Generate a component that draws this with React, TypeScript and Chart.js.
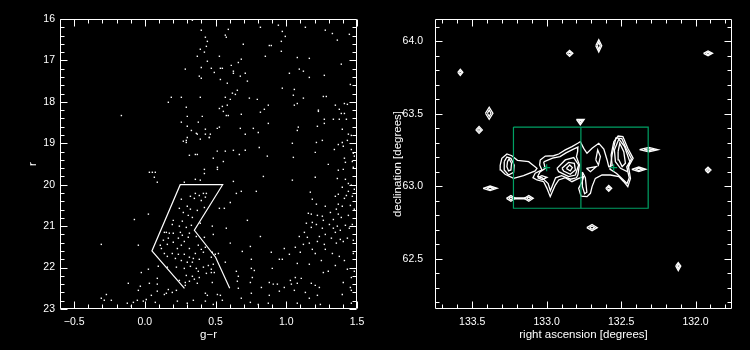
import React, { useEffect, useRef } from 'react';
import { Chart, registerables } from 'chart.js';

Chart.register(...registerables);

const FONT = '"Liberation Sans", Arial, sans-serif';
const WHITE = '#ffffff';
const GREEN = '#00a064';

// ---------- left panel: colour-magnitude diagram ----------
const grTickValues = [-0.5, 0.0, 0.5, 1.0, 1.5];
const rTickValues = [16, 17, 18, 19, 20, 21, 22, 23];

// stars: [g-r, r]
const starsUpperLeft: number[][] = [
  [0.336, 16.03], [0.399, 16.27], [0.428, 16.44], [0.442, 16.54], [0.435, 16.66], [0.392, 16.73], [0.421, 16.8],
  [0.371, 16.9], [0.442, 17.02], [0.399, 17.17], [0.286, 17.21], [0.385, 17.38], [0.399, 17.43], [0.187, 17.89],
  [0.258, 17.89], [0.392, 17.89], [0.166, 18.01], [0.293, 18.13], [-0.166, 18.33], [0.3, 18.35], [0.406, 18.35],
  [0.258, 18.49], [0.378, 18.49], [0.3, 18.59], [0.428, 18.66], [0.329, 18.69], [0.364, 18.76], [0.371, 18.78],
  [0.428, 18.78], [0.3, 18.86], [0.456, 18.86], [0.392, 18.9], [0.293, 18.93], [0.272, 18.95], [0.293, 18.98],
  [0.315, 19.29], [0.357, 19.27], [0.371, 19.27],
];
const starsUpperRight: number[][] = [
  [0.59, 16.25], [0.817, 16.2], [0.944, 16.15], [0.972, 16.3], [1.135, 16.2], [1.276, 16.27], [1.326, 16.35],
  [1.446, 16.37], [0.569, 16.39], [0.576, 16.44], [0.993, 16.42], [0.965, 16.54], [1.361, 16.51], [0.696, 16.61],
  [0.88, 16.64], [0.894, 16.64], [0.965, 16.78], [0.527, 16.9], [0.852, 16.9], [1.078, 16.93], [1.163, 16.95],
  [0.682, 16.97], [0.661, 17.05], [1.389, 17.09], [0.611, 17.12], [0.47, 17.19], [0.534, 17.19], [0.548, 17.19],
  [1.092, 17.21], [1.121, 17.26], [0.491, 17.29], [0.626, 17.26], [0.626, 17.31], [0.71, 17.31], [1.022, 17.31],
  [0.675, 17.38], [1.269, 17.36], [1.163, 17.41], [0.534, 17.46], [0.725, 17.5], [0.583, 17.55], [1.453, 17.58],
  [0.972, 17.67], [1.057, 17.7], [0.654, 17.72], [0.619, 17.79], [0.64, 17.82], [1.05, 17.84], [1.262, 17.87],
  [1.283, 17.87], [0.569, 17.89], [0.739, 17.91], [0.795, 17.94], [1.121, 17.91], [0.604, 17.94], [1.078, 18.04],
  [1.411, 18.04], [1.432, 18.06], [0.583, 18.08], [0.873, 18.08], [1.057, 18.08], [1.347, 18.08], [0.548, 18.11],
  [0.527, 18.16], [0.845, 18.18], [1.227, 18.2], [1.227, 18.23], [1.375, 18.18], [0.555, 18.23], [0.817, 18.25],
  [1.389, 18.28], [1.411, 18.28], [0.576, 18.33], [0.59, 18.33], [0.682, 18.3], [1.269, 18.42], [1.333, 18.42],
  [1.375, 18.42], [1.425, 18.42], [0.873, 18.52], [1.269, 18.52], [1.22, 18.59], [0.527, 18.61], [0.512, 18.64],
  [0.675, 18.64], [0.767, 18.64], [1.085, 18.61], [1.078, 18.69], [1.396, 18.66], [0.802, 18.74], [0.463, 18.78],
  [0.71, 18.78], [1.439, 18.78], [0.456, 18.86], [1.46, 18.81], [1.255, 18.93], [1.432, 18.93], [1.213, 18.98],
  [1.043, 19.0], [1.368, 19.03], [1.396, 18.98], [0.809, 19.1], [1.403, 19.07], [1.34, 19.15], [1.46, 19.15],
  [0.512, 19.19], [0.569, 19.19], [0.626, 19.17], [0.71, 19.17], [1.205, 19.22], [0.668, 19.27], [1.474, 19.24],
  [0.866, 19.31], [1.05, 19.34], [0.484, 19.36], [1.411, 19.36], [1.481, 19.31], [0.555, 19.44], [1.418, 19.46],
  [1.467, 19.44],
];
const starsLowerLeft: number[][] = [
  [0.032, 19.7], [0.053, 19.7], [0.074, 19.7], [0.067, 19.82], [0.088, 19.94], [0.421, 19.63], [0.421, 19.73],
  [0.357, 19.87], [0.392, 19.89], [0.279, 19.94], [0.414, 20.21], [0.435, 20.21], [0.357, 20.21], [0.385, 20.26],
  [0.35, 20.33], [0.428, 20.3], [0.322, 20.28], [0.258, 20.35], [0.399, 20.38], [0.3, 20.52], [0.421, 20.55],
  [0.244, 20.57], [0.322, 20.59], [0.371, 20.62], [0.272, 20.67], [0.025, 20.71], [0.307, 20.74], [0.336, 20.79],
  [-0.074, 20.84], [0.201, 20.86], [0.265, 20.88], [0.392, 20.93], [0.194, 20.96], [0.244, 21.0], [0.329, 20.98],
  [0.293, 21.03], [0.138, 21.15], [0.152, 21.15], [0.173, 21.17], [0.201, 21.17], [0.251, 21.15], [0.315, 21.17],
  [0.265, 21.22], [0.307, 21.27], [0.364, 21.25], [0.421, 21.27], [0.131, 21.34], [0.166, 21.29], [0.237, 21.29],
  [0.201, 21.39], [0.279, 21.37], [-0.308, 21.44], [-0.046, 21.46], [0.109, 21.46], [0.159, 21.44], [0.258, 21.46],
  [0.378, 21.46], [0.428, 21.51], [0.117, 21.54], [0.23, 21.54], [0.315, 21.54], [0.399, 21.56], [0.138, 21.66],
  [0.194, 21.66], [0.237, 21.68], [0.279, 21.68], [0.357, 21.66], [0.414, 21.63], [0.159, 21.73], [0.216, 21.78],
  [0.315, 21.75], [0.343, 21.78], [0.385, 21.8], [0.258, 21.83], [0.3, 21.87], [0.336, 21.87], [0.095, 21.97],
  [0.159, 21.99], [0.223, 21.99], [0.279, 22.02], [0.322, 21.97], [0.364, 22.02], [0.414, 21.99], [0.025, 22.04],
  [-0.025, 22.12], [0.378, 22.09], [0.435, 22.14], [0.293, 22.19], [0.336, 22.21], [0.385, 22.24], [0.35, 22.28],
  [0.088, 22.26], [0.244, 22.31], [0.286, 22.36], [0.315, 22.33], [0.032, 22.38], [-0.117, 22.38], [-0.032, 22.45],
  [0.371, 22.38], [0.088, 22.4], [0.286, 22.43], [-0.046, 22.55], [0.088, 22.57], [0.138, 22.65], [0.152, 22.62],
  [0.194, 22.6], [0.166, 22.53], [0.223, 22.55], [0.428, 22.62], [0.442, 22.67], [0.428, 22.81], [-0.272, 22.65],
  [-0.308, 22.74], [-0.287, 22.79], [-0.237, 22.79], [0.046, 22.67], [0.01, 22.77], [-0.011, 22.81], [-0.053, 22.79],
  [-0.081, 22.84], [-0.124, 22.86], [-0.096, 22.93], [0.074, 22.84], [0.23, 22.81], [0.3, 22.86], [0.343, 22.79],
];
const starsLowerRight: number[][] = [
  [0.513, 19.58], [0.513, 19.63], [1.297, 19.51], [1.368, 19.65], [1.403, 19.63], [1.474, 19.58], [0.838, 19.8],
  [1.043, 19.89], [1.205, 19.82], [1.361, 19.85], [1.418, 19.87], [1.439, 19.97], [1.46, 20.01], [0.626, 19.92],
  [1.396, 20.06], [1.481, 20.11], [1.439, 20.16], [0.682, 20.16], [0.647, 20.21], [0.788, 20.16], [1.17, 20.18],
  [1.368, 20.23], [1.425, 20.26], [1.467, 20.28], [1.347, 20.28], [1.411, 20.33], [1.184, 20.35], [0.604, 20.43],
  [1.213, 20.47], [1.276, 20.52], [1.368, 20.47], [1.396, 20.52], [1.453, 20.5], [1.354, 20.59], [1.481, 20.59],
  [0.527, 20.57], [0.562, 20.57], [1.156, 20.69], [1.177, 20.71], [1.22, 20.74], [1.255, 20.76], [1.312, 20.67],
  [1.368, 20.71], [1.439, 20.74], [1.389, 20.79], [0.725, 20.86], [1.262, 20.86], [1.333, 20.84], [1.184, 20.91],
  [1.142, 20.93], [1.213, 20.96], [1.305, 20.96], [1.361, 21.0], [1.418, 20.98], [1.467, 20.96], [0.477, 21.0],
  [0.576, 21.05], [1.177, 21.03], [1.255, 21.05], [1.333, 21.05], [1.382, 21.1], [1.446, 21.05], [0.484, 21.2],
  [1.128, 21.15], [1.276, 21.2], [1.347, 21.15], [0.817, 21.25], [1.092, 21.25], [1.149, 21.27], [1.234, 21.25],
  [1.319, 21.29], [1.382, 21.32], [1.432, 21.29], [1.474, 21.34], [1.22, 21.37], [1.163, 21.41], [1.121, 21.44],
  [1.269, 21.44], [0.604, 21.41], [1.354, 21.41], [1.403, 21.37], [1.064, 21.51], [0.986, 21.54], [0.746, 21.49],
  [1.184, 21.56], [1.276, 21.56], [1.099, 21.63], [1.022, 21.68], [0.894, 21.63], [0.689, 21.61], [0.477, 21.63],
  [0.498, 21.68], [0.52, 21.66], [1.205, 21.66], [1.326, 21.66], [1.474, 21.66], [1.375, 21.73], [0.47, 21.75],
  [0.951, 21.8], [0.972, 21.8], [0.753, 21.8], [0.569, 21.87], [1.248, 21.83], [1.411, 21.83], [1.078, 21.9],
  [1.163, 21.92], [1.347, 21.95], [0.449, 21.95], [0.484, 21.92], [0.47, 22.04], [0.491, 22.12], [0.47, 22.12],
  [0.753, 22.02], [0.774, 22.07], [0.901, 22.02], [0.647, 22.09], [1.262, 22.12], [1.297, 22.09], [1.432, 22.04],
  [1.481, 22.09], [0.661, 22.21], [0.76, 22.24], [1.106, 22.26], [1.064, 22.24], [1.029, 22.31], [1.46, 22.24],
  [0.477, 22.36], [0.654, 22.33], [0.746, 22.36], [0.88, 22.36], [0.908, 22.4], [0.937, 22.4], [1.036, 22.4],
  [1.078, 22.38], [1.177, 22.38], [1.205, 22.43], [1.403, 22.36], [0.661, 22.5], [0.824, 22.48], [0.986, 22.48],
  [1.234, 22.48], [1.453, 22.48], [1.46, 22.55], [0.951, 22.57], [1.057, 22.55], [1.135, 22.6], [0.753, 22.62],
  [0.513, 22.65], [1.22, 22.67], [1.396, 22.65], [0.534, 22.67], [0.88, 22.67], [0.682, 22.74], [1.163, 22.74],
  [0.548, 22.79], [0.746, 22.84], [0.802, 22.89], [0.873, 22.86], [1.078, 22.86], [1.241, 22.89], [0.484, 22.89],
  [1.46, 22.86],
];

// selection box (open polyline) in g-r / r
const boxGR = [0.28, 0.05, 0.25, 0.55, 0.35, 0.5, 0.6];
const boxR = [22.5, 21.6, 20.0, 20.0, 21.1, 21.75, 22.5];

// ---------- right panel: density contours on the sky ----------
const raTickValues = [133.5, 133.0, 132.5, 132.0];
const decTickValues = [62.5, 63.0, 63.5, 64.0];

// [RA, Dec] closed contours
const contourMain: number[][] = [
  [133.043, 63.183], [133.009, 63.21], [132.953, 63.212], [132.919, 63.224], [132.875, 63.252], [132.83, 63.275],
  [132.791, 63.298], [132.774, 63.309], [132.751, 63.263], [132.729, 63.229], [132.695, 63.263], [132.65, 63.298],
  [132.616, 63.258], [132.594, 63.183], [132.583, 63.137], [132.56, 63.144], [132.567, 63.217], [132.549, 63.309],
  [132.52, 63.348], [132.488, 63.344], [132.455, 63.263], [132.419, 63.194], [132.45, 63.137], [132.437, 63.056],
  [132.455, 62.999], [132.482, 63.033], [132.515, 63.068], [132.572, 63.079], [132.628, 63.079], [132.673, 63.056],
  [132.695, 62.999], [132.706, 62.953], [132.729, 62.93], [132.769, 62.934], [132.785, 62.987], [132.762, 63.033],
  [132.751, 63.068], [132.785, 63.056], [132.83, 63.033], [132.875, 63.061], [132.919, 63.045], [132.942, 63.01],
  [132.976, 62.93], [132.998, 62.987], [133.02, 63.033], [133.065, 63.045], [133.092, 63.061], [133.077, 63.091],
  [133.032, 63.114], [133.047, 63.148],
];
const contourMainInner: number[][] = [
  [133.02, 63.17], [132.96, 63.196], [132.91, 63.206], [132.87, 63.232], [132.82, 63.258], [132.79, 63.272],
  [132.792, 63.24], [132.8, 63.205], [132.78, 63.15], [132.79, 63.08], [132.8, 63.06], [132.84, 63.05],
  [132.9, 63.075], [132.94, 63.06], [132.975, 62.97], [132.99, 63.02], [133.03, 63.06], [133.06, 63.07],
  [133.045, 63.1], [133.01, 63.125],
];
const contourWestOuter: number[][] = [
  [133.312, 63.148], [133.301, 63.194], [133.267, 63.224], [133.234, 63.212], [133.196, 63.18], [133.121, 63.171],
  [133.065, 63.125], [133.077, 63.107], [133.155, 63.075], [133.222, 63.056], [133.279, 63.084], [133.308, 63.114],
];
const contourWestMid: number[][] = [
  [133.285, 63.171], [133.267, 63.203], [133.24, 63.194], [133.218, 63.148], [133.222, 63.098], [133.256, 63.079],
  [133.285, 63.114],
];
const contourWestInner: number[][] = [
  [133.263, 63.171], [133.252, 63.19], [133.236, 63.16], [133.24, 63.114], [133.256, 63.107], [133.267, 63.137],
];
const contourCentreOuter: number[][] = [
  [132.931, 63.125], [132.875, 63.183], [132.818, 63.199], [132.785, 63.148], [132.807, 63.079], [132.852, 63.068],
  [132.919, 63.102],
];
const contourCentreMid: number[][] = [
  [132.897, 63.125], [132.852, 63.166], [132.814, 63.16], [132.807, 63.114], [132.841, 63.084], [132.886, 63.107],
];
const contourCentreInner: number[][] = [
  [132.868, 63.125], [132.845, 63.148], [132.827, 63.13], [132.841, 63.107],
];
const contourEastOuter: number[][] = [
  [132.56, 63.22], [132.535, 63.335], [132.495, 63.33], [132.465, 63.26], [132.43, 63.19], [132.462, 63.135],
  [132.445, 63.06], [132.46, 63.02], [132.5, 63.06], [132.53, 63.09], [132.575, 63.12],
];
const contourEastMid: number[][] = [
  [132.545, 63.252], [132.515, 63.327], [132.477, 63.275], [132.441, 63.171], [132.459, 63.102], [132.504, 63.125],
  [132.538, 63.171],
];
const contourEastInner: number[][] = [
  [132.52, 63.24], [132.509, 63.298], [132.482, 63.24], [132.471, 63.16], [132.493, 63.137], [132.515, 63.183],
];
const contourSmallInside: number[][][] = [
  [[133.061, 63.061], [133.032, 63.075], [132.998, 63.063], [133.03, 63.047]],
  [[132.67, 63.183], [132.657, 63.252], [132.639, 63.206], [132.652, 63.148]],
  [[132.733, 63.125], [132.666, 63.137], [132.706, 63.102]],
  [[132.76, 63.1], [132.74, 63.06], [132.73, 62.96], [132.745, 62.95], [132.76, 63.0]],
];
const contourIsolated: number[][][] = [
  [[133.597, 63.787], [133.58, 63.808], [133.563, 63.787], [133.58, 63.766]],
  [[133.588, 63.787], [133.58, 63.797], [133.572, 63.787], [133.58, 63.777]],
  [[132.868, 63.918], [132.846, 63.938], [132.824, 63.918], [132.846, 63.898]],
  [[132.857, 63.918], [132.846, 63.928], [132.835, 63.918], [132.846, 63.908]],
  [[132.67, 63.97], [132.65, 64.012], [132.63, 63.97], [132.65, 63.928]],
  [[132.66, 63.97], [132.65, 63.995], [132.64, 63.97], [132.65, 63.945]],
  [[131.946, 63.918], [131.916, 63.934], [131.886, 63.918], [131.916, 63.902]],
  [[131.931, 63.918], [131.916, 63.926], [131.901, 63.918], [131.916, 63.91]],
  [[133.411, 63.505], [133.386, 63.547], [133.361, 63.505], [133.386, 63.463]],
  [[133.398, 63.505], [133.386, 63.527], [133.374, 63.505], [133.386, 63.483]],
  [[133.476, 63.39], [133.454, 63.414], [133.432, 63.39], [133.454, 63.366]],
  [[133.465, 63.39], [133.454, 63.402], [133.443, 63.39], [133.454, 63.378]],
  [[132.8, 63.462], [132.748, 63.462], [132.774, 63.425]],
  [[132.787, 63.455], [132.761, 63.455], [132.774, 63.437]],
  [[132.376, 63.254], [132.314, 63.269], [132.252, 63.254], [132.314, 63.239]],
  [[132.345, 63.254], [132.314, 63.261], [132.283, 63.254], [132.314, 63.247]],
  [[131.936, 63.114], [131.916, 63.134], [131.896, 63.114], [131.916, 63.094]],
  [[131.926, 63.114], [131.916, 63.124], [131.906, 63.114], [131.916, 63.104]],
  [[132.428, 63.118], [132.381, 63.134], [132.334, 63.118], [132.381, 63.102]],
  [[132.404, 63.118], [132.381, 63.126], [132.358, 63.118], [132.381, 63.11]],
  [[133.427, 62.987], [133.38, 63.003], [133.333, 62.987], [133.38, 62.971]],
  [[133.403, 62.987], [133.38, 62.995], [133.357, 62.987], [133.38, 62.979]],
  [[133.27, 62.918], [133.24, 62.938], [133.21, 62.918], [133.24, 62.898]],
  [[133.255, 62.918], [133.24, 62.928], [133.225, 62.918], [133.24, 62.908]],
  [[133.15, 62.918], [133.12, 62.938], [133.09, 62.918], [133.12, 62.898]],
  [[133.135, 62.918], [133.12, 62.928], [133.105, 62.918], [133.12, 62.908]],
  [[133.212, 62.922], [133.148, 62.922], [133.148, 62.914], [133.212, 62.914]],
  [[132.73, 62.716], [132.695, 62.738], [132.66, 62.716], [132.695, 62.694]],
  [[132.712, 62.716], [132.695, 62.727], [132.678, 62.716], [132.695, 62.705]],
  [[132.133, 62.452], [132.116, 62.475], [132.099, 62.452], [132.116, 62.42]],
  [[132.124, 62.452], [132.116, 62.464], [132.108, 62.452], [132.116, 62.435]],
  [[132.603, 62.987], [132.583, 63.007], [132.563, 62.987], [132.583, 62.967]],
  [[132.593, 62.987], [132.583, 62.997], [132.573, 62.987], [132.583, 62.977]],
];

// green field box and field centres
const fieldRA = [133.223, 132.318, 132.318, 133.223, 133.223];
const fieldDec = [63.41, 63.41, 62.85, 62.85, 63.41];
const fieldSplitRA = [132.77, 132.77];
const fieldSplitDec = [63.41, 62.85];
const centreRA = [133.0, 132.55];
const centreDec = [63.13, 63.13];

type Pt = { x: number; y: number };
const toPts = (xs: number[], ys: number[]): Pt[] => xs.map((x, i) => ({ x, y: ys[i] }));
const pairsToPts = (arr: number[][]): Pt[] => arr.map(([x, y]) => ({ x, y }));
const closed = (arr: number[][]): Pt[] => pairsToPts([...arr, arr[0]]);

function framePlugin(xMajor: number[], xStep: number, yMajor: number[], yStep: number) {
  return {
    id: 'idlFrame',
    afterDraw(chart: any) {
      const { ctx, chartArea: a } = chart;
      const xs = chart.scales.x;
      const ys = chart.scales.y;
      const L = Math.round(a.left) + 0.5;
      const R = Math.round(a.right) - 0.5;
      const T = Math.round(a.top) + 0.5;
      const B = Math.round(a.bottom) - 0.5;
      ctx.save();
      ctx.strokeStyle = WHITE;
      ctx.lineWidth = 1;
      ctx.beginPath();
      ctx.rect(L, T, R - L, B - T);
      ctx.stroke();
      const majorLen = 7;
      const minorLen = 4;
      const isMajor = (v: number, list: number[]) => list.some((m) => Math.abs(m - v) < 1e-6);
      ctx.beginPath();
      let v = Math.ceil(xs.min / xStep - 1e-6) * xStep;
      while (v <= xs.max + 1e-9) {
        const len = isMajor(v, xMajor) ? majorLen : minorLen;
        const px = Math.round(xs.getPixelForValue(v)) + 0.5;
        ctx.moveTo(px, B);
        ctx.lineTo(px, B - len);
        ctx.moveTo(px, T);
        ctx.lineTo(px, T + len);
        v = Math.round((v + xStep) * 1e6) / 1e6;
      }
      v = Math.ceil(ys.min / yStep - 1e-6) * yStep;
      while (v <= ys.max + 1e-9) {
        const len = isMajor(v, yMajor) ? majorLen : minorLen;
        const py = Math.round(ys.getPixelForValue(v)) + 0.5;
        ctx.moveTo(L, py);
        ctx.lineTo(L + len, py);
        ctx.moveTo(R, py);
        ctx.lineTo(R - len, py);
        v = Math.round((v + yStep) * 1e6) / 1e6;
      }
      ctx.stroke();
      ctx.restore();
    },
  };
}

const tickFont = { family: FONT, size: 10.5 };
const titleFont = { family: FONT, size: 11.5 };

function axisBase(min: number, max: number, values: number[], fmt: (v: number) => string, padding: number) {
  return {
    type: 'linear' as const,
    min,
    max,
    grid: { display: false, drawTicks: false, tickLength: 0 },
    border: { display: false },
    afterBuildTicks: (s: any) => {
      s.ticks = values.map((value) => ({ value }));
    },
    ticks: {
      color: WHITE,
      font: tickFont,
      autoSkip: false,
      maxRotation: 0,
      minRotation: 0,
      padding,
      callback: (val: any) => fmt(Number(val)),
    },
  };
}

const fmtGR = (v: number) => (v < 0 ? '\u2212' + Math.abs(v).toFixed(1) : v.toFixed(1));
const fmtInt = (v: number) => String(Math.round(v));
const fmt1 = (v: number) => v.toFixed(1);

export default function App() {
  const leftRef = useRef<HTMLCanvasElement>(null);
  const rightRef = useRef<HTMLCanvasElement>(null);

  useEffect(() => {
    const allStars = [...starsUpperLeft, ...starsUpperRight, ...starsLowerLeft, ...starsLowerRight];
    const left = new Chart(leftRef.current!, {
      type: 'scatter',
      data: {
        datasets: [
          {
            data: toPts(boxGR, boxR),
            showLine: true,
            borderColor: WHITE,
            borderWidth: 1.2,
            pointRadius: 0,
            fill: false,
          } as any,
          {
            data: pairsToPts(allStars),
            pointStyle: 'rect',
            pointRadius: 1,
            backgroundColor: WHITE,
            borderWidth: 0,
            showLine: false,
          } as any,
        ],
      },
      options: {
        animation: false,
        responsive: false,
        maintainAspectRatio: false,
        layout: { padding: { left: 0, right: 18, top: 19, bottom: 0 } },
        plugins: { legend: { display: false }, tooltip: { enabled: false } },
        scales: {
          x: {
            ...axisBase(-0.6, 1.5, grTickValues, fmtGR, 7),
            position: 'bottom',
            afterFit: (s: any) => {
              s.height = 41;
            },
            title: { display: true, text: 'g\u2212r', color: WHITE, font: titleFont, padding: { top: 0, bottom: 8 } },
          },
          y: {
            ...axisBase(16, 23, rTickValues, fmtInt, 5),
            reverse: true,
            position: 'left',
            afterFit: (s: any) => {
              s.width = 60;
            },
            title: { display: true, text: 'r', color: WHITE, font: titleFont, padding: { top: 26, bottom: 0 } },
          },
        } as any,
      },
      plugins: [framePlugin(grTickValues, 0.1, rTickValues, 0.2)],
    });

    const contourSets = [
      contourMain,
      contourMainInner,
      contourWestOuter,
      contourWestMid,
      contourWestInner,
      contourCentreOuter,
      contourCentreMid,
      contourCentreInner,
      contourEastOuter,
      contourEastMid,
      contourEastInner,
      ...contourSmallInside,
      ...contourIsolated,
    ];
    const lineDs = (data: Pt[], color: string, width: number) =>
      ({ data, showLine: true, borderColor: color, borderWidth: width, pointRadius: 0, fill: false, tension: 0 }) as any;

    const right = new Chart(rightRef.current!, {
      type: 'scatter',
      data: {
        datasets: [
          {
            data: toPts(centreRA, centreDec),
            pointStyle: 'cross',
            pointRadius: 3.5,
            borderColor: GREEN,
            borderWidth: 1.2,
            showLine: false,
          } as any,
          lineDs(toPts(fieldRA, fieldDec), GREEN, 1.2),
          lineDs(toPts(fieldSplitRA, fieldSplitDec), GREEN, 1.2),
          ...contourSets.map((c) => lineDs(closed(c), WHITE, 1.3)),
        ],
      },
      options: {
        animation: false,
        responsive: false,
        maintainAspectRatio: false,
        layout: { padding: { left: 0, right: 18, top: 19, bottom: 0 } },
        plugins: { legend: { display: false }, tooltip: { enabled: false } },
        scales: {
          x: {
            ...axisBase(131.755, 133.75, raTickValues, fmt1, 7),
            reverse: true,
            position: 'bottom',
            afterFit: (s: any) => {
              s.height = 41;
            },
            title: {
              display: true,
              text: 'right ascension [degrees]',
              color: WHITE,
              font: titleFont,
              padding: { top: 0, bottom: 8 },
            },
          },
          y: {
            ...axisBase(62.155, 64.155, decTickValues, fmt1, 12),
            position: 'left',
            afterFit: (s: any) => {
              s.width = 60;
            },
            title: {
              display: true,
              text: 'declination [degrees]',
              color: WHITE,
              font: titleFont,
              padding: { top: 16, bottom: 0 },
            },
          },
        } as any,
      },
      plugins: [framePlugin(raTickValues, 0.1, decTickValues, 0.1)],
    });

    return () => {
      left.destroy();
      right.destroy();
    };
  }, []);

  return (
    <div
      style={{
        position: 'fixed',
        left: 0,
        top: 0,
        width: 750,
        height: 350,
        background: '#000',
        display: 'flex',
      }}
    >
      <canvas ref={leftRef} width={375} height={350} style={{ width: 375, height: 350, display: 'block' }} />
      <canvas ref={rightRef} width={375} height={350} style={{ width: 375, height: 350, display: 'block' }} />
    </div>
  );
}
